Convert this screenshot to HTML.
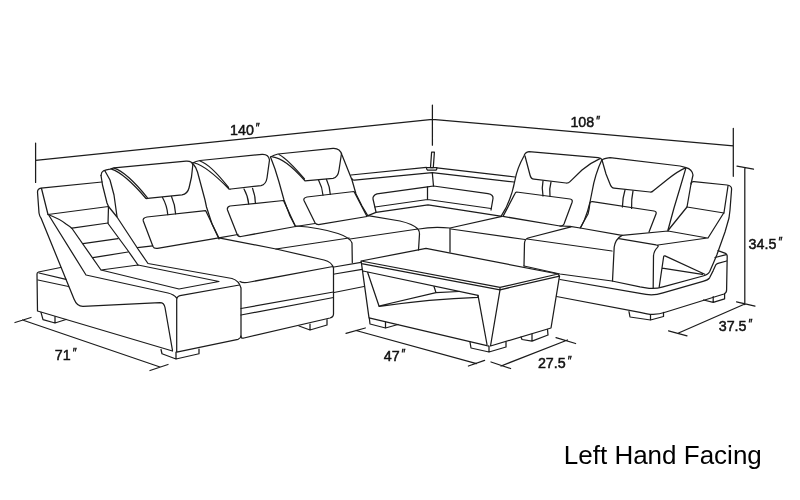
<!DOCTYPE html>
<html lang="en">
<head>
<meta charset="utf-8">
<title>Left Hand Facing Sectional Dimensions</title>
<style>
html,body{margin:0;padding:0;background:#fff;}
body{width:800px;height:500px;overflow:hidden;position:relative;font-family:"Liberation Sans",sans-serif;}
svg{position:absolute;left:0;top:0;display:block;filter:grayscale(1);}
.ln path,.ln line,.ln rect{fill:none;stroke:#1c1c1c;stroke-width:1.25;stroke-linecap:round;stroke-linejoin:round;}
.dim text{font-family:"Liberation Sans","DejaVu Sans",sans-serif;font-size:15.5px;fill:#111;stroke:#111;stroke-width:0.5;}
.cap{font-family:"Liberation Sans",sans-serif;font-size:26px;fill:#000;}
</style>
</head>
<body>
<svg width="800" height="500" viewBox="0 0 800 500">
<rect x="0" y="0" width="800" height="500" fill="#ffffff"/>

<!-- DIMENSION LINES -->
<g class="ln" id="dims">
<path d="M35.6 143V182.4M35.6 160.4L432.4 119.3L733.3 145.8M432.4 105V145.2M733.3 128.3V176.3"/>
<path d="M737 166.2L753.5 169.2M744.8 167.7V304.5M736.5 301.8L755 306.2M744.8 304L678 333.3M668.5 330.8L687 335.8"/>
<path d="M15 322.5L31 317.5M22.5 320L160 367M150 370.5L168 364.5"/>
<path d="M346 333.4L365.3 328M356 330.5L476.5 363.6M468.4 366L484.6 360.4"/>
<path d="M501 366L567.5 340M491 362L510.6 368.5M556 337.6L575.6 343.5"/>
</g>

<!-- LEFT ARM + PLATFORM -->
<g class="ln" id="leftarm">
<path d="M102 182L41 188.2Q37.6 188.8 37.5 192L39 213Q39.5 216 41 218L74 299Q77 306.5 83 306.4L160 302.6Q164 302.6 165 307.5L172.5 350.5"/>
<path d="M41.5 188.5L48 214.5L108.5 206.5L108 223.5L127.5 250L138 265"/>
<path d="M49 215.5L86 275L168 293Q174 294.5 176.7 298"/>
<path d="M48 214.5Q60 219 66 224Q70 226.5 72 228.5L101 270L179 289L219 281.5L138 265L101 270"/>
<path d="M72 228.2L108 223M83 243.6L118 238.6M93 257.6L128 252"/>
<path d="M108.5 206.5L117 217L138 249L148 263.5L232 278.5Q239 280.5 241 288L241 337"/>
<path d="M137.5 247.6L152.6 245.8"/>
<path d="M60.5 267.5L38.5 272Q37 272.5 37 274L37.5 311L172.5 351"/>
<path d="M38 280L68.5 286.5M39 273L66 279.3"/>
<path d="M41 312.4L43 319.6L55 323L66 319.5M55 316.5V323"/>
<path d="M161 349.5L162 353.75L176 359L199 353.75L199 349M176 352V359"/>
<path d="M176.7 352V300Q176.7 296.5 180 295.7L239.5 285M176.7 352.2L238 339.3Q240.5 338.7 241 336"/>
</g>

<!-- LEFT SECTION BACKRESTS -->
<g class="ln" id="backs-left">
<!-- backrest 1 -->
<path d="M101 175.5Q101.3 172 103.5 170.8Q106 169.8 110 169.2L114 167.8L186 161.2Q192 160.8 192.8 165L191.5 177L189 188Q187.5 194 182 194.8L150 198.2Q147 198.6 146 198.5Q124 173 111.5 169.2"/>
<path d="M114 168.2Q126.5 172 147.3 197.6"/>
<path d="M101 175.5L102.5 185L107 203L108.5 206.5M105 171L110 180L114 195L117 216.5"/>
<path d="M162.5 197.5Q167 205.5 167.8 214.7M171.5 196.5Q175.2 205 175.6 213.8"/>
<path d="M147 217L205.6 210.6L218.8 237.8L157.5 248.3Q154 248.8 153 246.5L143.3 221Q142.3 218 147 217Z"/>
<!-- backrest 2 -->
<path d="M192.5 163Q196 161.2 200 160.5L262 154.4Q268.5 154 269.5 160L267 178Q266 184.5 261 185.6L231 189L229 189Q206.5 166 194.5 163"/>
<path d="M200 161Q210.5 164.5 228.5 187.5"/>
<path d="M192.5 163Q196 167 197.5 172L201 185L205 200L206.5 207L212 224L219 239"/>
<path d="M244 189Q248 196 248.7 204M252.6 188.4Q255.2 195 255.4 203.2"/>
<path d="M230 206L283.5 200.5L295.5 226.5L241 236.5Q238 237 237 234L227.5 210Q226.7 207 230 206Z"/>
<!-- backrest 3 -->
<path d="M270.5 157Q274 155 278 154L333 148.4Q340 148 342 155L348 170L352 180L356 194L362 206L368 216"/>
<path d="M341.5 153.5L339 170Q338 177.5 333 178.4L305 180.8Q285 158 272.5 156.8"/>
<path d="M279 154.5Q287.5 159 304.5 179"/>
<path d="M270.5 157L275 169L279 182L284 200L290 216L295 225.5"/>
<path d="M318.5 180Q322.5 187.5 323 195.2M326.5 179.4Q330 187 330.3 194.4"/>
<path d="M307 197L354 191.5L367 216.5L320 224.4Q316.5 225 315 222.8L304 200.5Q303 198 307 197Z"/>
</g>

<!-- CORNER BACK + SHELF -->
<g class="ln" id="corner">
<path d="M351 175L426.4 167.3M351.8 178.5Q352.3 180.4 354.5 180.1L432.2 172.6L514 182M436.9 167.8L515 177M432.3 172.8L433.5 186"/>
<path d="M431.6 152.2L434.4 152.2L433.3 167.5L430.5 167.5Z"/>
<path d="M426.6 167.6L436.8 167.6Q437.4 169 436 170.2L427.6 170.2Q426 169 426.6 167.6Z"/>
<path d="M376 212L373 199Q372.5 195.5 377 193.8L427.5 186.8L433.5 186L488 193.6Q493.5 194.5 493 198.5L491 210"/>
<path d="M427.5 186.8V199.5M375 207L427.5 199.5L491 208.5M368 215.6L376 212.4L428 204.8L502 216.4"/>
</g>

<!-- LEFT SECTION SEATS -->
<g class="ln" id="seats-left">
<path d="M218.8 237.8L276 249L324 260Q332 262 333.5 268L333.5 314Q333.5 317 330 318L244 338Q241.5 338.8 241 337"/>
<path d="M240 281.5Q243 283.5 250 282L333 266.5"/>
<path d="M241 308.5L333.5 292M241 315L333.5 297.5"/>
<path d="M299 326L310 330L327 325L327 319.5M310 324V330"/>
<path d="M276 249L349 238M296 226Q320 227.6 338 233.5Q350 237.5 352 243L352.3 262.5"/>
<path d="M350 239L418 229M368 215.6L400 221Q413 224 418 229Q419.5 231 419.5 234L418.5 250"/>
<path d="M334 267L361 262.3M334.5 274L362 269.3M334 292.5L364 286.5"/>
<path d="M218.8 237.8L238 234.5M295.5 226.5L315 223.5"/>
<path d="M419 229Q432 226.5 450 228V252M450 228L502 216.4"/>
</g>

<!-- RIGHT SECTION -->
<g class="ln" id="right">
<!-- backrest R1 -->
<path d="M501 216.4C510 203 513.5 188 515 180S520 163 524 156Q525 152 529 151.6L598 157.6Q601 158 602 159.6C598 168 594 180 592 192S587 216 581 227"/>
<path d="M525 156L530 175Q531 179 534 179.2L566 183Q568.5 183.2 570 181.6L582 170Q590 163 600 158.6"/>
<path d="M543 181Q541.5 188 543 196M551 182Q549 189 550 196.4"/>
<path d="M516.5 192L570 199Q573 199.6 572 202.5L564 224Q563 226.5 560 226L503 216.4L515 193.5Q515.5 192 516.5 192Z"/>
<!-- backrest R2 -->
<path d="M602 160Q603.5 158.5 610 157.6L680 166L686 167.6Q692 169 693 175L691 184"/>
<path d="M602 160L606 174L610 184Q611.5 188 614 188.2L650 192Q652 192.2 653 191L668 179Q678 171 686 167.6L680 188L674 208L668 230"/>
<path d="M625 190Q622.5 198 622.4 207M633 191Q631.3 199 631.6 208.4"/>
<path d="M580.2 228L588 214Q589.5 208 589.8 203.6Q590 201.3 592.5 201.6L654 211Q657 211.6 656 214L649 232"/>
<!-- seats -->
<path d="M451 229L525 239.5M571 226.8L528 238Q525 239 524.5 243L524 266M527 239L612 251"/>
<path d="M622 235.4Q615.5 239 614.2 247L612.5 281M619 238.6L656 244.8Q659.5 245.3 657.5 247.4Q653.8 251 653.5 256L653.2 288"/>
<path d="M622 235.4L668 231L707.4 238L658 245"/>
<path d="M560 226L570 226.4L580.2 228L622 235.4"/>
<!-- base lines -->
<path d="M524 266L560 274L612 281L640 286.8L646 287.8Q654 289.4 663 286.9L703 276Q708 274.6 709.6 271.8L713.2 263.4L716.8 255L725 232L729 218L730 210L731.6 189Q731.5 185.6 727 185L694 181.7Q691 181.5 691 184L687 207L724 213"/>
<path d="M560 279.5L640 293.4L646 294.4Q654 295.8 663 292.9L703 281.3Q708 280 709.6 277.8L713.2 270.6L715.6 265.2Q716.5 263.8 718 263.4L726.6 261"/>
<path d="M556.5 296.5L640 312.4L647 313.8Q656 315.6 666 312L724 294Q726.6 293 726.6 290L727.2 256.5Q727.2 254 725.5 253.4L718 250.7"/>
<path d="M715 257.5L726.3 254.6"/>
<path d="M728 186L724 212.5L708 238M687 207L668 230.5"/>
<path d="M659.2 287L663.6 257Q663.8 255.4 665 255.9L704.8 274.3M662.2 268.2L702.4 274.4"/>
<path d="M629 311.6L630 317L650.5 320L663.5 316.5L663.5 312.3M650.5 314.5V320"/>
<path d="M703.6 300L713.2 302.4L724.6 298.8L724.6 294M713.2 296.6V302.4"/>
</g>

<!-- COFFEE TABLE -->
<g class="ln" id="table">
<path d="M361 261L426 248.4L558 274L500 287.4ZM361 261L361.5 263.6L500 289.8L559.5 276.2L558 274M500 287.4V289.8"/>
<path d="M363 271L478 295.3L487 344.5M361.5 263.6L369 317.8L489 346.2M367.5 272L379 306"/>
<path d="M379 306L436 292.6L434 286.5M436 292.6L459 291.5M379.5 306.3Q430 299 478 297.3V295.3"/>
<path d="M500 289.8L490.5 346L551 328L559.5 276.2"/>
<path d="M369.3 318L370 324L385.5 328L398 324.5M385.5 322V328"/>
<path d="M470 342L471 348L489 352L506 347L506 341.8M489 346.5V352"/>
<path d="M521 337L522 339.5L532 341.2L548 335L547.5 329.5M532 334V341.2"/>
</g>

<!-- LABELS -->
<g class="dim">
<text transform="translate(230.0,134.6) scale(0.922,1)">140<tspan dx="2.2" dy="-2.7" font-size="12">″</tspan></text>
<text transform="translate(570.4,127.2) scale(0.922,1)">108<tspan dx="2.2" dy="-2.7" font-size="12">″</tspan></text>
<text transform="translate(748.6,248.7) scale(0.922,1)">34.5<tspan dx="2.2" dy="-2.7" font-size="12">″</tspan></text>
<text transform="translate(718.7,330.9) scale(0.922,1)">37.5<tspan dx="2.2" dy="-2.7" font-size="12">″</tspan></text>
<text transform="translate(54.8,360.1) scale(0.922,1)">71<tspan dx="2.2" dy="-2.7" font-size="12">″</tspan></text>
<text transform="translate(383.7,360.5) scale(0.922,1)">47<tspan dx="2.2" dy="-2.7" font-size="12">″</tspan></text>
<text transform="translate(537.9,367.9) scale(0.922,1)">27.5<tspan dx="2.2" dy="-2.7" font-size="12">″</tspan></text>
</g>
<text class="cap" x="563.8" y="463.9">Left Hand Facing</text>

</svg>
</body>
</html>
